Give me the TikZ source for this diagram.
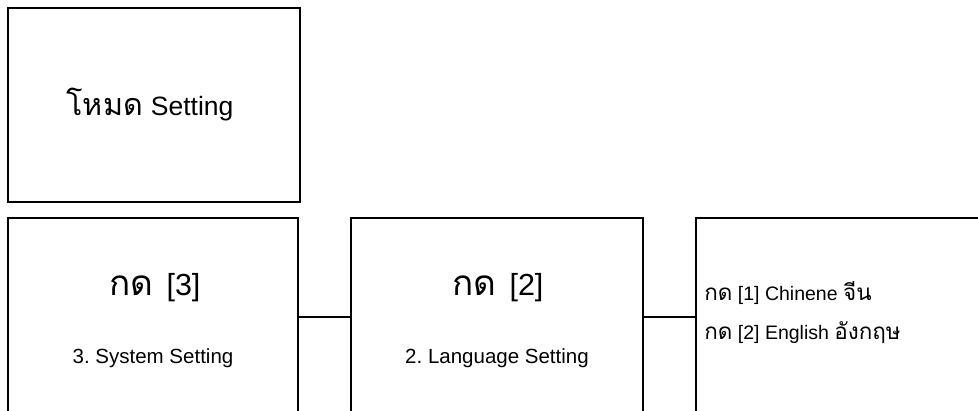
\documentclass[tikz,border=0pt]{standalone}
\usepackage{fontspec}
\setmainfont{Liberation Sans}
\newfontfamily\thaifont[Script=Thai, Scale=1.15]{Loma}
\usetikzlibrary{positioning,calc}
\frenchspacing

\tikzset{
  box/.style={draw, line width=1.6pt, minimum height=198pt, inner sep=0pt},
  link/.style={line width=1.6pt},
  titletext/.style={font=\fontsize{26.5}{30}\selectfont},
  keytext/.style={font=\fontsize{30.5}{34}\selectfont},
  subtext/.style={font=\fontsize{20.5}{24}\selectfont},
  itemtext/.style={font=\fontsize{19.5}{22}\selectfont, anchor=west, inner sep=0pt}
}

\begin{document}
\begin{tikzpicture}[x=1pt, y=-1pt]
  \useasboundingbox (0,0) rectangle (978,411);

  % Mode box
  \node[box, minimum width=292pt, minimum height=194pt] (mode) at (154,105) {};
  \node[titletext] (modetxt) at ([xshift=-4pt]mode.center) {{\thaifont โหมด}\hskip8pt Setting};

  % Press 3 box
  \node[box, minimum width=290pt] (press3) at (153,317) {};
  \node[keytext] (key3) at ([xshift=2pt, yshift=29pt]press3.center) {{\thaifont กด}\hskip13pt[3]};
  \node[subtext] (sys) at ([yshift=-41pt]press3.center) {3. System Setting};

  % Press 2 box
  \node[box, minimum width=292pt] (press2) at (497,317) {};
  \node[keytext] (key2) at ([xshift=1pt, yshift=29pt]press2.center) {{\thaifont กด}\hskip13pt[2]};
  \node[subtext] (lang) at ([yshift=-41pt]press2.center) {2. Language Setting};

  % Language box
  \node[box, minimum width=294pt] (choice) at (843,317) {};
  \node[itemtext] (zh) at ([xshift=9pt, yshift=24pt]choice.west) {{\thaifont กด} [1] Chinene {\thaifont จีน}};
  \node[itemtext] (en) at ([xshift=9pt, yshift=-16pt]choice.west) {{\thaifont กด} [2] English {\thaifont อังกฤษ}};

  % Connectors
  \draw[link] (press3.east) -- (press2.west);
  \draw[link] (press2.east) -- (choice.west);
\end{tikzpicture}
\end{document}
